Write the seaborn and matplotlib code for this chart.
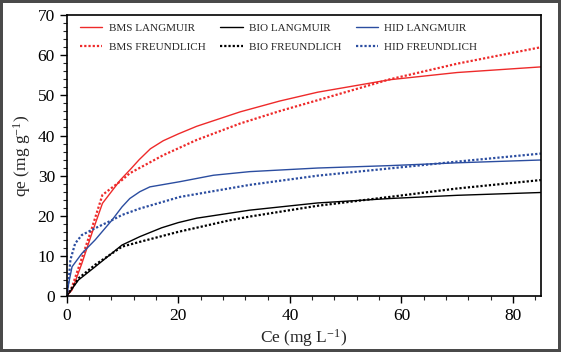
import pandas as pd
import matplotlib.pyplot as plt
import seaborn as sns
from matplotlib.ticker import MultipleLocator

# Data
bms_lang_ce = [0, 0.95, 2.7, 4.5, 6.4, 9.6, 11.3, 13, 15, 17.3, 20, 23.3, 31.1, 38.2, 45, 57.9, 70, 85]
bms_lang_qe = [0, 1.5, 8.1, 15.6, 23.1, 28.9, 31.4, 34.0, 36.7, 38.7, 40.4, 42.3, 45.9, 48.6, 50.8, 53.9, 55.7, 57.1]

bms_freu_ce = [0, 0.95, 2.7, 4.5, 6.4, 9.9, 11.3, 17.3, 23.3, 31.1, 38.2, 45, 57.9, 70, 85]
bms_freu_qe = [0, 2.3, 9.4, 16.9, 25.2, 28.9, 30.6, 35.1, 38.9, 43.0, 46.1, 48.8, 54.0, 57.9, 62.0]

bio_lang_ce = [0, 2.1, 5.1, 9.9, 13.1, 17, 20, 23.3, 32.8, 45, 57.9, 70, 85]
bio_lang_qe = [0, 4.0, 7.3, 12.7, 14.8, 17.0, 18.3, 19.4, 21.4, 23.2, 24.3, 25.1, 25.8]

bio_freu_ce = [0, 2.1, 5.1, 9.9, 13.1, 20, 29.3, 32.8, 45, 57.9, 70, 85]
bio_freu_qe = [0, 4.4, 7.8, 12.3, 13.5, 16.0, 18.9, 19.8, 22.5, 24.7, 26.8, 28.9]

hid_lang_ce = [0, 0.35, 0.95, 2.7, 5.1, 8.1, 9.9, 11.3, 13.1, 14.9, 20.3, 26.3, 32.8, 45, 57.9, 70, 85]
hid_lang_qe = [0, 3.2, 7.3, 10.6, 14.0, 18.9, 22.2, 24.3, 26.0, 27.2, 28.5, 30.1, 31.0, 31.9, 32.5, 33.2, 33.9]

hid_freu_ce = [0, 0.35, 0.65, 1.5, 2.7, 5.1, 8.1, 9.9, 13.1, 20.3, 32.8, 45, 57.9, 70, 85]
hid_freu_qe = [0, 4.0, 9.0, 13.1, 15.2, 16.9, 18.9, 20.2, 21.8, 24.7, 27.7, 30.0, 31.8, 33.5, 35.5]

sns.set_style("ticks")
plt.rcParams["font.family"] = ["Liberation Serif", "DejaVu Serif"]
plt.rcParams["mathtext.fontset"] = "custom"
plt.rcParams["mathtext.rm"] = "Liberation Serif"
plt.rcParams["mathtext.it"] = "Liberation Serif:italic"

fig = plt.figure(figsize=(5.61, 3.52), dpi=100, edgecolor="#4a4a4a", linewidth=3)
ax = fig.add_axes([0.119, 0.159, 0.845, 0.798])

red = "#ee2a2a"
blue = "#2b4da0"
black = "#000000"
dot = (0, (1, 0.9))

series = [
    ("BMS LANGMUIR", bms_lang_ce, bms_lang_qe, red, "-", 1.0),
    ("BMS FREUNDLICH", bms_freu_ce, bms_freu_qe, red, dot, 1.6),
    ("BIO LANGMUIR", bio_lang_ce, bio_lang_qe, black, "-", 1.0),
    ("BIO FREUNDLICH", bio_freu_ce, bio_freu_qe, black, dot, 1.6),
    ("HID LANGMUIR", hid_lang_ce, hid_lang_qe, blue, "-", 1.0),
    ("HID FREUNDLICH", hid_freu_ce, hid_freu_qe, blue, dot, 1.6),
]

for name, ce, qe, col, ls, lw in series:
    df = pd.DataFrame({"Ce": ce, "qe": qe})
    sns.lineplot(x="Ce", y="qe", data=df, ax=ax, color=col, linestyle=ls,
                 linewidth=lw, label=name, sort=False, estimator=None)

ax.set_xlim(0, 85)
ax.set_ylim(0, 70)
ax.xaxis.set_major_locator(MultipleLocator(20))
ax.xaxis.set_minor_locator(MultipleLocator(4))
ax.yaxis.set_major_locator(MultipleLocator(10))
ax.yaxis.set_minor_locator(MultipleLocator(2))
ax.tick_params(which="major", direction="out", length=5, width=1, labelsize=12.5, colors="black")
ax.tick_params(which="minor", direction="out", length=3, width=0.8)
for s in ax.spines.values():
    s.set_linewidth(1.2)
    s.set_color("black")

ax.set_xlabel("Ce (mg L$^{-1}$)", fontsize=12.5, labelpad=2)
ax.set_ylabel("qe (mg g$^{-1}$)", fontsize=12.5, labelpad=3)

ax.legend(loc="upper left", ncol=3, frameon=False, fontsize=8, handlelength=2.0,
          columnspacing=1.35, handletextpad=0.55, labelspacing=0.8,
          bbox_to_anchor=(0.019, 0.986), borderaxespad=0)

plt.savefig("out.png", dpi=100)
